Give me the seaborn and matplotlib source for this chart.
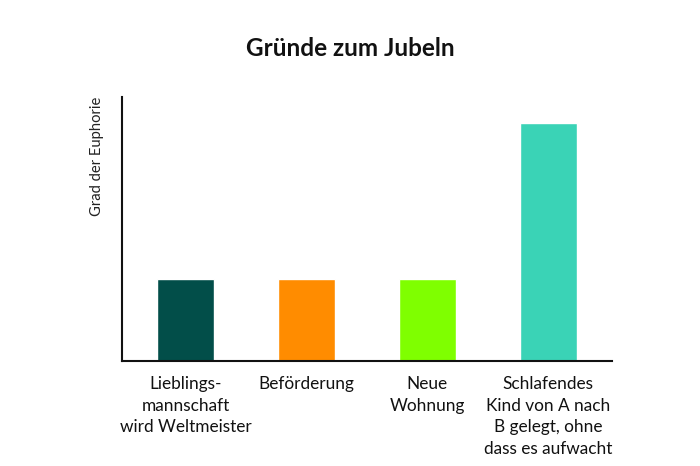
import pandas as pd
import matplotlib.pyplot as plt
import seaborn as sns

categories = [
    "Lieblings-\nmannschaft\nwird Weltmeister",
    "Beförderung",
    "Neue\nWohnung",
    "Schlafendes\nKind von A nach\nB gelegt, ohne\ndass es aufwacht",
]
euphorie = [1.0, 1.0, 1.0, 2.9]
colors = ["#024e49", "#ff8c00", "#7fff00", "#3ad3b6"]

df = pd.DataFrame({"Grund": categories, "Euphorie": euphorie})

sns.set_theme(style="white")
plt.rcParams["font.family"] = ["Lato", "DejaVu Sans"]

fig = plt.figure(figsize=(7, 4.66), dpi=100)
ax = fig.add_axes([0.1743, 0.2253, 0.6997, 0.5665])

sns.barplot(data=df, x="Grund", y="Euphorie", hue="Grund", palette=colors,
            legend=False, width=0.47, saturation=1, ax=ax)

ax.set_xlim(-0.525, 3.525)
ax.set_ylim(0, 3.22)
ax.set_yticks([])
ax.set_xlabel("")
ax.set_ylabel("Grad der Euphorie", fontsize=10.6, color="#222222")
ax.yaxis.set_label_coords(-0.036, 1.0)
ax.yaxis.label.set_horizontalalignment("right")
ax.tick_params(axis="x", length=0, pad=11)
ax.set_xticks(range(len(categories)))
ax.set_xticklabels(categories, fontsize=12.4, color="#111111", linespacing=1.42)

for side in ["top", "right"]:
    ax.spines[side].set_visible(False)
for side in ["left", "bottom"]:
    ax.spines[side].set_color("#111111")
    ax.spines[side].set_linewidth(1.5)

fig.suptitle("Gründe zum Jubeln", x=0.5, y=0.92, fontsize=17.5, fontweight="bold", color="#111111")

plt.savefig("out.png", dpi=100)
plt.close(fig)
